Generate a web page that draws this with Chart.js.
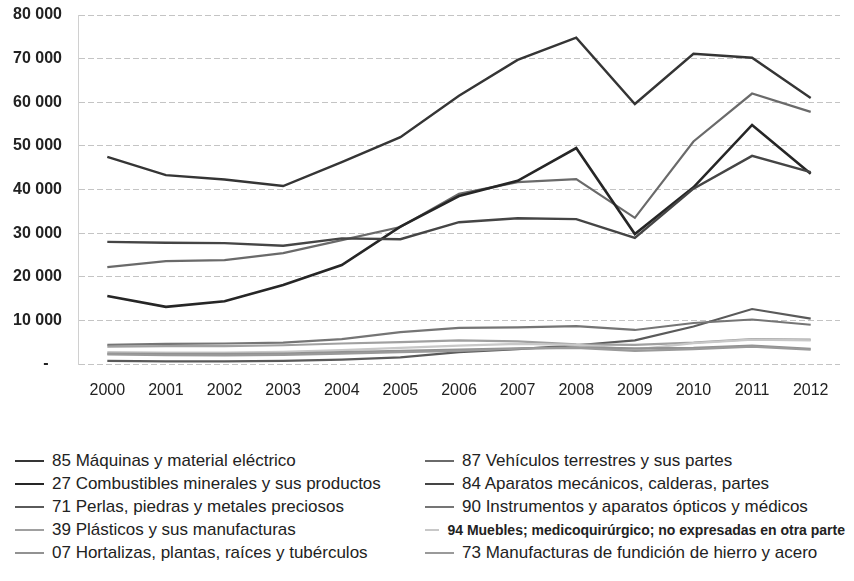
<!DOCTYPE html>
<html>
<head>
<meta charset="utf-8">
<script src="https://cdn.jsdelivr.net/npm/chart.js@4"></script>
<style>
  body { margin: 0; background: #fff; width: 854px; height: 581px; position: relative; overflow: hidden; }
  #wrap { position: absolute; left: 0; top: 0; width: 854px; height: 420px; }
  #legend { position: absolute; left: 15px; top: 451px; display: grid; grid-template-columns: 410px 420px; row-gap: 4px;
            font-family: "Liberation Sans", Arial, sans-serif; font-size: 17px; color: #222; }
  .item { display: flex; align-items: center; height: 19px; white-space: nowrap; }
  .swatch { width: 29px; height: 0; margin-right: 8px; }
  .narrow { font-family: "Liberation Sans Narrow", "Liberation Sans", sans-serif; font-weight: bold; font-size: 14px; }
</style>
</head>
<body>
<div id="wrap"><canvas id="chart"></canvas></div>
<div id="legend"></div>
<script>
const years = ["2000", "2001", "2002", "2003", "2004", "2005", "2006", "2007", "2008", "2009", "2010", "2011", "2012"];

const maquinas = [47500, 43300, 42300, 40800, 46300, 52000, 61500, 69700, 74800, 59600, 71100, 70200, 61000];
const vehiculos = [22200, 23600, 23800, 25400, 28400, 31400, 39000, 41700, 42400, 33500, 51000, 62000, 57800];
const combustibles = [15600, 13100, 14400, 18100, 22700, 31500, 38500, 42000, 49500, 29800, 40500, 54800, 43600];
const aparatos = [28000, 27800, 27700, 27100, 28800, 28600, 32500, 33400, 33200, 28900, 40200, 47700, 44000];
const perlas = [700, 600, 600, 700, 1000, 1500, 2700, 3400, 4300, 5400, 8600, 12600, 10400];
const instrumentos = [4400, 4600, 4700, 4900, 5700, 7300, 8300, 8400, 8700, 7800, 9400, 10200, 9000];
const plasticos = [4000, 4100, 4100, 4300, 4700, 5000, 5400, 5200, 4500, 4400, 4900, 5700, 5600];
const muebles = [2700, 2600, 2600, 2800, 3200, 3700, 4200, 4600, 4400, 3300, 4800, 5600, 5400];
const hortalizas = [2400, 2300, 2300, 2400, 2700, 3000, 3300, 3600, 3800, 3600, 3700, 4200, 3500];
const manufacturas = [2200, 2000, 2000, 2100, 2400, 2700, 3000, 3500, 3700, 3000, 3400, 4000, 3300];

const yTicks = [0, 10000, 20000, 30000, 40000, 50000, 60000, 70000, 80000];

// legend order (row by row, two columns)
const series = [
    { label: "85 Máquinas y material eléctrico", data: maquinas, color: "#353535", width: 2.4 },
    { label: "87 Vehículos terrestres y sus partes", data: vehiculos, color: "#6a6a6a", width: 2.2 },
    { label: "27 Combustibles minerales y sus productos", data: combustibles, color: "#262626", width: 2.6 },
    { label: "84 Aparatos mecánicos, calderas, partes", data: aparatos, color: "#454545", width: 2.4 },
    { label: "71 Perlas, piedras y metales preciosos", data: perlas, color: "#5a5a5a", width: 2.2 },
    { label: "90 Instrumentos y aparatos ópticos y médicos", data: instrumentos, color: "#757575", width: 2.2 },
    { label: "39 Plásticos y sus manufacturas", data: plasticos, color: "#a0a0a0", width: 2.2 },
    { label: "94 Muebles; medicoquirúrgico; no expresadas en otra parte", data: muebles, color: "#c8c8c8", width: 2.2, narrow: true },
    { label: "07 Hortalizas, plantas, raíces y tubérculos", data: hortalizas, color: "#929292", width: 2.2 },
    { label: "73 Manufacturas de fundición de hierro y acero", data: manufacturas, color: "#9a9a9a", width: 2.2 }
];

function fmt(v) {
    if (v === 0) return "-   ";
    return String(v).replace(/\B(?=(\d{3})+(?!\d))/g, " ");
}

const ctx = document.getElementById("chart").getContext("2d");
new Chart(ctx, {
    type: "line",
    data: {
        labels: years,
        datasets: series.map(s => ({
            label: s.label,
            data: s.data,
            borderColor: s.color,
            backgroundColor: s.color,
            borderWidth: s.width,
            pointRadius: 0,
            tension: 0,
            fill: false
        })).reverse()
    },
    options: {
        responsive: true,
        maintainAspectRatio: false,
        animation: false,
        layout: { padding: { top: 15, right: 14, bottom: 20, left: 0 } },
        plugins: { legend: { display: false }, tooltip: { enabled: false } },
        scales: {
            x: {
                offset: true,
                afterFit: scale => { scale.height = 36; },
                grid: { display: false, drawTicks: false },
                border: { display: false },
                ticks: { color: "#222", padding: 17, font: { family: "Liberation Sans", size: 16 } }
            },
            y: {
                min: 0,
                max: 80000,
                afterBuildTicks: scale => { scale.ticks = yTicks.map(v => ({ value: v })); },
                afterFit: scale => {
                    scale.width = 78;
                    scale.paddingTop = 0;
                    scale.paddingBottom = 0;
                },
                grid: { color: "#c4c4c4", drawTicks: false },
                border: { color: "#d0d0d0", dash: [6, 3] },
                ticks: {
                    color: "#222",
                    padding: 16,
                    font: { family: "Liberation Sans", size: 16, weight: "bold" },
                    callback: v => fmt(v)
                }
            }
        }
    }
});

// html legend, two columns
const legend = document.getElementById("legend");
series.forEach(s => {
    const item = document.createElement("div");
    item.className = "item";
    const sw = document.createElement("span");
    sw.className = "swatch";
    sw.style.borderTop = s.width + "px solid " + s.color;
    const txt = document.createElement("span");
    txt.textContent = s.label;
    if (s.narrow) txt.className = "narrow";
    item.appendChild(sw);
    item.appendChild(txt);
    legend.appendChild(item);
});
</script>
</body>
</html>
